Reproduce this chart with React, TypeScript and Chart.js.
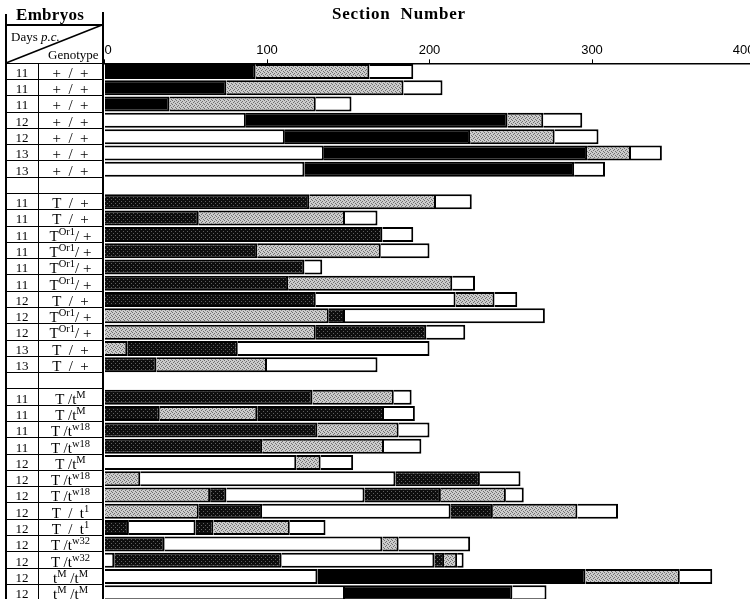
import React, { useEffect, useRef } from "react";
import { Chart, registerables } from "chart.js";

Chart.register(...registerables);

// ---------- data ----------
const days: string[] = [
  "11", "11", "11", "12", "12", "13", "13", "",
  "11", "11", "11", "11", "11", "11", "12", "12", "12", "13", "13", "",
  "11", "11", "11", "11", "12", "12", "12", "12", "12", "12", "12", "12", "12",
];

const genotypes: string[] = [
  "+ / +", "+ / +", "+ / +", "+ / +", "+ / +", "+ / +", "+ / +", "",
  "T / +", "T / +", "T^{Or1}/ +", "T^{Or1}/ +", "T^{Or1}/ +", "T^{Or1}/ +",
  "T / +", "T^{Or1}/ +", "T^{Or1}/ +", "T / +", "T / +", "",
  "T /t^{M}", "T /t^{M}", "T /t^{w18}", "T /t^{w18}", "T /t^{M}", "T /t^{w18}",
  "T /t^{w18}", "T / t^{1}", "T / t^{1}", "T /t^{w32}", "T /t^{w32}",
  "t^{M} /t^{M}", "t^{M} /t^{M}",
];

// segment end positions (section number) for each embryo, left to right
const segEnds: number[][] = [
  [93, 163, 190],
  [75, 184, 208],
  [40, 130, 152],
  [87, 248, 270, 294],
  [111, 225, 277, 304],
  [135, 297, 324, 343],
  [123, 289, 308],
  [],
  [126, 204, 226],
  [58, 148, 168],
  [171, 190],
  [94, 170, 200],
  [123, 134],
  [113, 214, 228],
  [130, 216, 240, 254],
  [138, 148, 271],
  [130, 198, 222],
  [14, 82, 200],
  [32, 100, 168],
  [],
  [128, 178, 189],
  [34, 94, 172, 191],
  [131, 181, 200],
  [97, 172, 195],
  [118, 133, 153],
  [22, 179, 231, 256],
  [65, 75, 160, 207, 247, 258],
  [58, 97, 213, 239, 291, 316],
  [15, 56, 67, 114, 136],
  [37, 171, 181, 225],
  [6, 109, 203, 209, 217, 221],
  [131, 296, 354, 374],
  [148, 251, 272],
];

// segment kinds: B = solid black, D = dark stipple, G = light stipple, W = white
const segTypes: string[][] = [
  ["B", "G", "W"],
  ["B", "G", "W"],
  ["B", "G", "W"],
  ["W", "B", "G", "W"],
  ["W", "B", "G", "W"],
  ["W", "B", "G", "W"],
  ["W", "B", "W"],
  [],
  ["D", "G", "W"],
  ["D", "G", "W"],
  ["D", "W"],
  ["D", "G", "W"],
  ["D", "W"],
  ["D", "G", "W"],
  ["D", "W", "G", "W"],
  ["G", "D", "W"],
  ["G", "D", "W"],
  ["G", "D", "W"],
  ["D", "G", "W"],
  [],
  ["D", "G", "W"],
  ["D", "G", "D", "W"],
  ["D", "G", "W"],
  ["D", "G", "W"],
  ["W", "G", "W"],
  ["G", "W", "D", "W"],
  ["G", "D", "W", "D", "G", "W"],
  ["G", "D", "W", "D", "G", "W"],
  ["D", "W", "D", "G", "W"],
  ["D", "W", "G", "W"],
  ["W", "D", "W", "D", "G", "W"],
  ["W", "B", "G", "W"],
  ["W", "B", "W"],
];

const xTicks: number[] = [0, 100, 200, 300, 400];

// ---------- layout ----------
const ROW_TOP = 63.35;
const ROW_H = 16.29;
const LEFT = 104.5;
const PX_PER_UNIT = 1.625;
const CANVAS_W = 760;
const CANVAS_H = 620;
const AXIS_H = 20;

function makePattern(base: number, dot: number, dots: [number, number][], size: number): CanvasPattern | string {
  const c = document.createElement("canvas");
  c.width = size;
  c.height = size;
  const ctx = c.getContext("2d");
  if (!ctx) return `rgb(${base},${base},${base})`;
  ctx.fillStyle = `rgb(${base},${base},${base})`;
  ctx.fillRect(0, 0, size, size);
  ctx.fillStyle = `rgb(${dot},${dot},${dot})`;
  dots.forEach(([x, y]) => ctx.fillRect(x, y, 1, 1));
  return ctx.createPattern(c, "repeat") || `rgb(${base},${base},${base})`;
}

function renderGenotype(g: string) {
  const parts = g.split(/(\^\{[^}]*\})/);
  return parts.map((p, i) => {
    const m = p.match(/^\^\{([^}]*)\}$/);
    if (m) {
      return (
        <span key={i} style={{ fontSize: 10.5, position: "relative", top: -6, lineHeight: 0 }}>
          {m[1]}
        </span>
      );
    }
    return <span key={i}>{p}</span>;
  });
}

export default function App() {
  const canvasRef = useRef<HTMLCanvasElement | null>(null);

  useEffect(() => {
    const canvas = canvasRef.current;
    if (!canvas) return;
    const light = makePattern(204, 112, [[0, 0], [2, 1], [1, 2], [3, 3]], 4);
    const dark = makePattern(14, 95, [[1, 1], [3, 3]], 4);
    const fills: Record<string, any> = { B: "#000000", D: dark, G: light, W: "#ffffff" };

    const maxSeg = Math.max(...segEnds.map((s) => s.length));
    const labels = days.map((_, i) => String(i));
    const datasets = [] as any[];
    for (let k = 0; k < maxSeg; k++) {
      datasets.push({
        label: "seg" + k,
        data: segEnds.map((ends) => (k < ends.length ? [k === 0 ? 0 : ends[k - 1], ends[k]] : null)),
        backgroundColor: segTypes.map((t) => (k < t.length ? fills[t[k]] : "#ffffff")),
        borderColor: "#000000",
        borderWidth: 2,
        borderSkipped: "left",
        barThickness: 15,
        grouped: false,
        inflateAmount: 0,
      });
    }

    const chart = new Chart(canvas, {
      type: "bar",
      data: { labels, datasets },
      options: {
        indexAxis: "y",
        animation: false,
        responsive: false,
        maintainAspectRatio: false,
        layout: {
          padding: {
            left: LEFT,
            right: CANVAS_W - (LEFT + 400 * PX_PER_UNIT),
            top: ROW_TOP - AXIS_H,
            bottom: CANVAS_H - (ROW_TOP + days.length * ROW_H),
          },
        },
        plugins: { legend: { display: false }, tooltip: { enabled: false }, title: { display: false } },
        scales: {
          x: {
            type: "linear",
            position: "top",
            min: 0,
            max: 400,
            afterFit: (s: any) => {
              s.height = AXIS_H;
            },
            afterBuildTicks: (s: any) => {
              s.ticks = xTicks.map((v) => ({ value: v }));
            },
            ticks: {
              align: "inner",
              color: "#000",
              padding: 1,
              font: { family: "'Liberation Sans', Arial, sans-serif", size: 13 },
            },
            grid: {
              display: true,
              drawOnChartArea: false,
              drawTicks: true,
              tickLength: 4,
              color: "#000",
              lineWidth: 1,
            },
            border: { display: true, color: "#000", width: 1.6 },
          },
          y: {
            type: "category",
            display: false,
            offset: true,
          },
        },
      },
    });
    return () => chart.destroy();
  }, []);

  const serif = "'Liberation Serif', 'Times New Roman', serif";
  const hLines: number[] = [];
  for (let k = 0; k <= days.length; k++) hLines.push(Math.round(ROW_TOP + k * ROW_H - 0.7));

  return (
    <div
      style={{
        position: "fixed",
        left: 0,
        top: 0,
        width: 750,
        height: 599,
        overflow: "hidden",
        background: "#fff",
        fontFamily: serif,
        color: "#000",
      }}
    >
      <canvas
        ref={canvasRef}
        width={CANVAS_W}
        height={CANVAS_H}
        style={{ position: "absolute", left: 0, top: 0, width: CANVAS_W, height: CANVAS_H }}
      />
      {/* Titles */}
      <div style={{ position: "absolute", left: 16, top: 5, fontSize: 17, fontWeight: "bold", letterSpacing: 0.3 }}>
        Embryos
      </div>
      <div
        style={{
          position: "absolute",
          left: 332,
          top: 4,
          fontSize: 17,
          fontWeight: "bold",
          whiteSpace: "pre",
          letterSpacing: 0.8,
        }}
      >
        {"Section  Number"}
      </div>
      {/* header box */}
      <div style={{ position: "absolute", left: 5, top: 24, width: 98, height: 1.5, background: "#000" }} />
      <svg style={{ position: "absolute", left: 0, top: 0 }} width={110} height={70}>
        <line x1={6} y1={63} x2={102} y2={25} stroke="#000" strokeWidth={1.6} />
      </svg>
      <div style={{ position: "absolute", left: 11, top: 29, fontSize: 13 }}>
        Days <i>p.c.</i>
      </div>
      <div style={{ position: "absolute", left: 48, top: 47, fontSize: 13 }}>Genotype</div>
      {/* vertical table lines */}
      <div style={{ position: "absolute", left: 5, top: 14, width: 1.5, height: 600, background: "#000" }} />
      <div style={{ position: "absolute", left: 101.8, top: 12, width: 2, height: 600, background: "#000" }} />
      <div style={{ position: "absolute", left: 37.5, top: ROW_TOP, width: 1.4, height: 560, background: "#000" }} />
      {/* horizontal row lines */}
      {hLines.map((y, k) => (
        <div
          key={"h" + k}
          style={{ position: "absolute", left: 5, top: y, width: 98, height: 1.4, background: "#000" }}
        />
      ))}
      {/* cells */}
      {days.map((d, r) => (
        <div
          key={"d" + r}
          style={{
            position: "absolute",
            left: 6,
            width: 32,
            top: ROW_TOP + r * ROW_H + 1.5,
            height: ROW_H,
            lineHeight: ROW_H + "px",
            textAlign: "center",
            fontSize: 13,
          }}
        >
          {d}
        </div>
      ))}
      {genotypes.map((g, r) => (
        <div
          key={"g" + r}
          style={{
            position: "absolute",
            left: 39,
            width: 63,
            top: ROW_TOP + r * ROW_H + 1.5,
            height: ROW_H,
            lineHeight: ROW_H + "px",
            textAlign: "center",
            fontSize: 15,
            whiteSpace: "pre",
          }}
        >
          {renderGenotype(g.replace(/ \/ /g, "  /  "))}
        </div>
      ))}
    </div>
  );
}
